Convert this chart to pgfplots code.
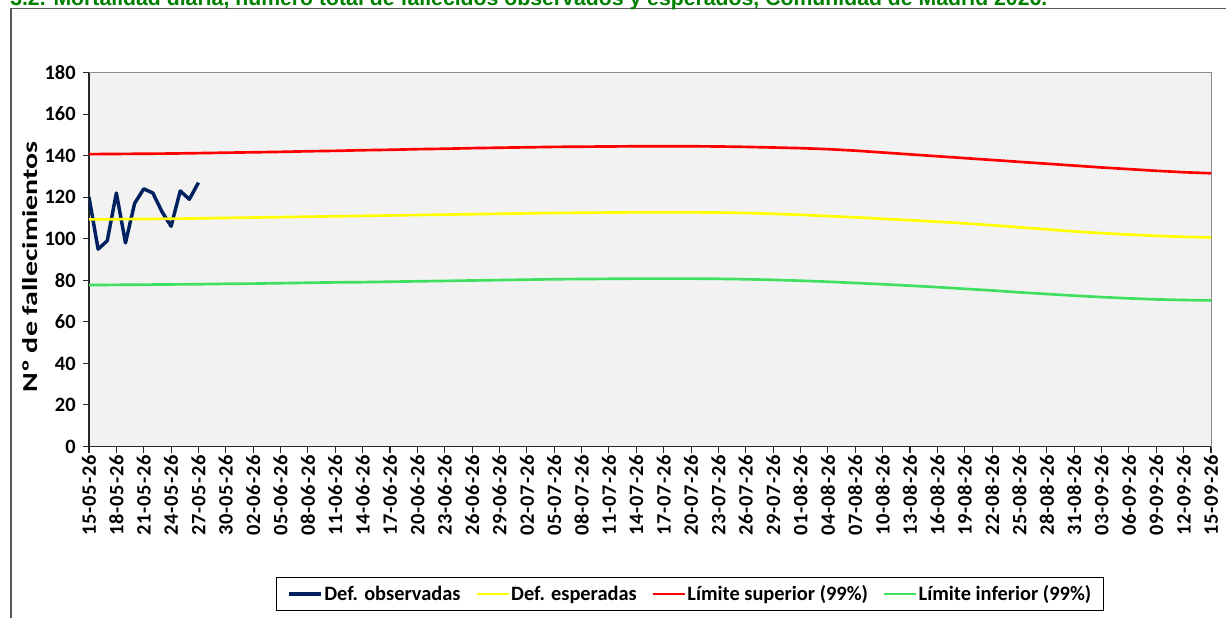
\documentclass[border=0pt]{standalone}
\usepackage{fontspec}
\setmainfont{Carlito}
\newfontfamily\arialfont{Liberation Sans}
\usepackage{pgfplots}
\pgfplotsset{compat=1.18}
\usepackage{graphicx}
\definecolor{obs}{HTML}{002060}
\definecolor{esp}{HTML}{FFFF00}
\definecolor{sup}{HTML}{FF0000}
\definecolor{inf}{HTML}{3FE05F}
\definecolor{ttl}{HTML}{008000}
\definecolor{plotbg}{HTML}{F2F2F2}
\newcommand{\tfont}{\fontsize{15.3}{18}\selectfont\bfseries}
\newcommand{\xfont}{\fontsize{15.3}{18}\selectfont\bfseries\addfontfeature{LetterSpace=4}}
\newcommand{\lfont}{\fontsize{16}{19}\selectfont\bfseries}
\begin{document}
\begin{tikzpicture}
\useasboundingbox (0pt,0pt) rectangle (919.5pt,-462.75pt);
\clip (0pt,0pt) rectangle (919.5pt,-462.75pt);
\draw[black!65, line width=0.9pt] (8.25pt,-6.375pt) rectangle (930pt,-480pt);
\node[anchor=base west, inner sep=0pt, text=ttl] at (7.5pt,-3.975pt)
  {\resizebox{777.75pt}{!}{\arialfont\bfseries 3.2. Mortalidad diaria, número total de fallecidos observados y esperados, Comunidad de Madrid 2026.}};
\begin{axis}[
  at={(66.75pt,-334.875pt)}, anchor=south west,
  scale only axis, width=841.5pt, height=280.5pt,
  xmin=0, xmax=123, ymin=0, ymax=180,
  axis background/.style={fill=plotbg, draw=black!45},
  axis x line*=bottom, axis y line*=left,
  axis line style={black!85, line width=0.8pt},
  every axis x line/.append style={-}, every axis y line/.append style={-},
  tick align=outside, major tick length=4.5pt,
  tick style={black!85, line width=0.8pt},
  ytick={0,20,...,180},
  xtick={0,3,...,123},
  xticklabels={15-05-26,18-05-26,21-05-26,24-05-26,27-05-26,30-05-26,02-06-26,05-06-26,08-06-26,11-06-26,14-06-26,17-06-26,20-06-26,23-06-26,26-06-26,29-06-26,02-07-26,05-07-26,08-07-26,11-07-26,14-07-26,17-07-26,20-07-26,23-07-26,26-07-26,29-07-26,01-08-26,04-08-26,07-08-26,10-08-26,13-08-26,16-08-26,19-08-26,22-08-26,25-08-26,28-08-26,31-08-26,03-09-26,06-09-26,09-09-26,12-09-26,15-09-26},
  xticklabel style={rotate=90, anchor=east, font=\xfont, inner sep=2pt},
  yticklabel style={font=\tfont, xshift=-2pt},
  /pgf/number format/assume math mode=true,
  ylabel={\scalebox{1.4}[1]{Nº de fallecimientos}},
  ylabel style={at={(axis description cs:-0.0526,0.48)}, anchor=center, font=\lfont},
  legend columns=-1,
  legend image code/.code={\draw[#1] (0pt,0pt) -- (24pt,0pt);},
  legend style={at={(axis description cs:0.5357,-0.394)}, anchor=center,
    draw=black, line width=0.8pt, font=\tfont, inner xsep=8pt, inner ysep=4pt,
    nodes={inner xsep=1pt},
    /tikz/every even column/.append style={column sep=10pt}},
]
\addplot[obs, line width=2.6pt, line join=round] coordinates {
(0,120) (1,95) (2,99) (3,122) (4,98) (5,117) (6,124) (7,122) (8,113) (9,106) (10,123) (11,119) (12,127)};
\addlegendentry{Def. observadas}
\addplot[esp, line width=2pt] coordinates {
(0,109.3) (3,109.4) (6,109.5) (9,109.6) (12,109.8) (15,110.0) (18,110.2) (21,110.4) (24,110.6) (27,110.8) (30,111.0) (33,111.2) (36,111.4) (39,111.6) (42,111.8) (45,112.0) (48,112.2) (51,112.4) (54,112.5) (57,112.6) (60,112.7) (63,112.7) (66,112.7) (69,112.6) (72,112.4) (75,112.0) (78,111.5) (81,110.9) (84,110.3) (87,109.6) (90,108.9) (93,108.2) (96,107.4) (99,106.5) (102,105.5) (105,104.5) (108,103.5) (111,102.7) (114,102.0) (117,101.4) (120,100.9) (123,100.6)};
\addlegendentry{Def. esperadas}
\addplot[sup, line width=2pt] coordinates {
(0,140.7) (3,140.8) (6,140.9) (9,141.0) (12,141.2) (15,141.4) (18,141.6) (21,141.8) (24,142.1) (27,142.3) (30,142.6) (33,142.8) (36,143.1) (39,143.3) (42,143.6) (45,143.8) (48,144.0) (51,144.2) (54,144.3) (57,144.4) (60,144.5) (63,144.5) (66,144.5) (69,144.4) (72,144.2) (75,143.9) (78,143.6) (81,143.1) (84,142.4) (87,141.5) (90,140.6) (93,139.7) (96,138.8) (99,137.9) (102,137.0) (105,136.1) (108,135.2) (111,134.3) (114,133.5) (117,132.7) (120,132.0) (123,131.5)};
\addlegendentry{Límite superior (99\%)}
\addplot[inf, line width=2pt] coordinates {
(0,77.7) (3,77.8) (6,77.9) (9,78.0) (12,78.1) (15,78.3) (18,78.4) (21,78.6) (24,78.8) (27,79.0) (30,79.1) (33,79.3) (36,79.5) (39,79.7) (42,79.9) (45,80.1) (48,80.3) (51,80.5) (54,80.6) (57,80.7) (60,80.8) (63,80.8) (66,80.8) (69,80.7) (72,80.5) (75,80.2) (78,79.8) (81,79.3) (84,78.7) (87,78.1) (90,77.4) (93,76.7) (96,75.9) (99,75.1) (102,74.2) (105,73.4) (108,72.6) (111,71.9) (114,71.3) (117,70.8) (120,70.5) (123,70.3)};
\addlegendentry{Límite inferior (99\%)}
\end{axis}
\end{tikzpicture}
\end{document}
